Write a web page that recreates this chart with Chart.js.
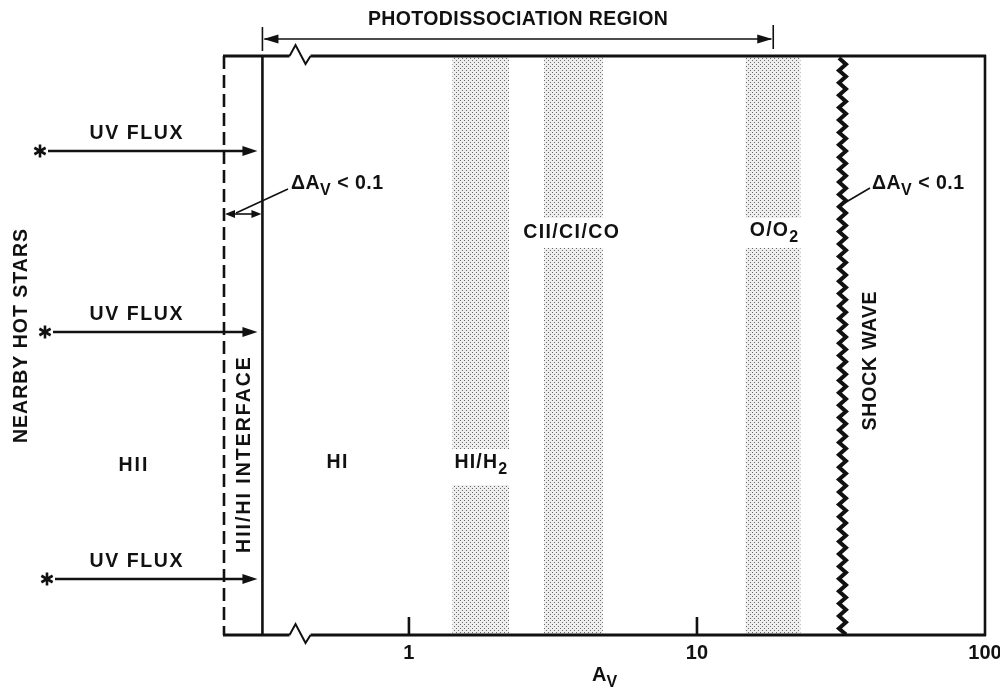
<!DOCTYPE html>
<html>
<head>
<meta charset="utf-8">
<script src="https://cdn.jsdelivr.net/npm/chart.js@4.4.1/dist/chart.umd.min.js"></script>
<style>
  html, body { margin: 0; padding: 0; background: #fff; }
  #wrap { width: 1000px; height: 688px; }
</style>
</head>
<body>
<div id="wrap"><canvas id="pdr"></canvas></div>
<script>
// Zones of the photodissociation region, in A_V (log axis)
const zoneNames = ["HI/H2", "CII/CI/CO", "O/O2"];
const zoneStart = [1.42, 2.95, 14.8];
const zoneEnd = [2.22, 4.7, 22.8];

const ionFrontAv = 0.228;   // dashed edge of the HII/HI interface
const interfaceAv = 0.31;   // solid edge of the interface
const breakAv = 0.385;      // axis break
const pdrEndAv = 18.4;      // end of the photodissociation arrow
const shockAv = 32;         // shock front
const avMax = 100;
const avTicks = [1, 10, 100];
const tickMarks = [1, 10];

const INK = "#111";
const FONT = "'Liberation Sans', Arial, Helvetica, sans-serif";

// label placement (canvas px)
const fluxRows = [151, 332, 579];
const fluxStars = [40, 45, 47];
const zoneGaps = [
  { zone: 0, y: 467, h: 36 },
  { zone: 1, y: 233, h: 30 },
  { zone: 2, y: 233, h: 30 }
];

function stipple() {
  const c = document.createElement("canvas");
  c.width = 4; c.height = 4;
  const g = c.getContext("2d");
  g.fillStyle = "#eeeeee";
  g.fillRect(0, 0, 4, 4);
  g.fillStyle = "#6a6a6a";
  g.fillRect(0, 0, 1, 1);
  g.fillRect(2, 2, 1, 1);
  return g.createPattern(c, "repeat");
}

function setFont(ctx, size, sp) {
  ctx.font = "bold " + size + "px " + FONT;
  ctx.letterSpacing = (sp || 0) + "px";
}

// text made of segments, some of them subscripts
function drawRich(ctx, segs, x, y, o) {
  const size = o.size || 19.5, sp = o.spacing || 0;
  const subSize = Math.round(size * 0.8);
  const widths = segs.map(s => {
    setFont(ctx, s.sub ? subSize : size, sp);
    return ctx.measureText(s.t).width;
  });
  const total = widths.reduce((a, b) => a + b, 0) - sp;
  let cx = o.align === "left" ? x : x - total / 2;
  ctx.textAlign = "left";
  ctx.textBaseline = "middle";
  ctx.fillStyle = INK;
  segs.forEach((s, i) => {
    setFont(ctx, s.sub ? subSize : size, sp);
    ctx.fillText(s.t, cx, y + (s.sub ? size * 0.36 : 0));
    cx += widths[i];
  });
  ctx.letterSpacing = "0px";
}

function drawRotated(ctx, segs, x, y, o) {
  ctx.save();
  ctx.translate(x, y);
  ctx.rotate(-Math.PI / 2);
  drawRich(ctx, segs, 0, 0, o);
  ctx.restore();
}

function line(ctx, x1, y1, x2, y2, w) {
  ctx.lineWidth = w;
  ctx.beginPath();
  ctx.moveTo(x1, y1);
  ctx.lineTo(x2, y2);
  ctx.stroke();
}

function head(ctx, tipX, y, dir, len, half) {
  ctx.beginPath();
  ctx.moveTo(tipX, y);
  ctx.lineTo(tipX - dir * len, y - half);
  ctx.lineTo(tipX - dir * len, y + half);
  ctx.closePath();
  ctx.fill();
}

function star(ctx, cx, cy, r) {
  for (let k = 0; k < 3; k++) {
    const ang = Math.PI / 2 + k * Math.PI / 3;
    line(ctx, cx - r * Math.cos(ang), cy - r * Math.sin(ang), cx + r * Math.cos(ang), cy + r * Math.sin(ang), 2.6);
  }
}

function edgeWithBreak(ctx, x0, x1, b, y) {
  ctx.lineWidth = 3;
  ctx.beginPath();
  ctx.moveTo(x0 - 1, y);
  ctx.lineTo(b, y);
  ctx.stroke();
  ctx.lineWidth = 2;
  ctx.beginPath();
  ctx.moveTo(b, y);
  ctx.lineTo(b + 6, y - 11);
  ctx.lineTo(b + 16, y + 8);
  ctx.lineTo(b + 21, y);
  ctx.stroke();
  ctx.lineWidth = 3;
  ctx.beginPath();
  ctx.moveTo(b + 21, y);
  ctx.lineTo(x1 + 1, y);
  ctx.stroke();
}

const diagram = {
  id: "diagram",
  afterDatasetsDraw(chart) {
    const { ctx, chartArea: a, scales: { x } } = chart;
    const px = v => x.getPixelForValue(v);
    const xL = px(ionFrontAv), xI = px(interfaceAv), xS = px(shockAv), xR = px(avMax);
    ctx.save();
    ctx.strokeStyle = INK;
    ctx.fillStyle = INK;
    ctx.lineCap = "butt";

    // white gaps in the shaded zones behind their names
    ctx.fillStyle = "#fff";
    zoneGaps.forEach(g => {
      const x0 = px(zoneStart[g.zone]), x1 = px(zoneEnd[g.zone]);
      ctx.fillRect(x0 - 1, g.y - g.h / 2, x1 - x0 + 2, g.h);
    });
    ctx.fillStyle = INK;

    // frame
    edgeWithBreak(ctx, xL, xR, px(breakAv), a.top);
    edgeWithBreak(ctx, xL, xR, px(breakAv), a.bottom);
    line(ctx, xR, a.top - 1, xR, a.bottom + 1, 2.6);
    line(ctx, xI, a.top, xI, a.bottom, 2.6);
    ctx.setLineDash([13, 6]);
    line(ctx, xL, a.top, xL, a.bottom, 2.6);
    ctx.setLineDash([]);

    // inward tick marks
    tickMarks.forEach(v => line(ctx, px(v), a.bottom, px(v), a.bottom - 18, 2.6));

    // shock front
    ctx.lineWidth = 4;
    ctx.lineJoin = "miter";
    ctx.beginPath();
    let k = 0;
    for (let y = a.top + 2; y <= a.bottom; y += 6.2, k++) {
      const xx = xS + (k % 2 ? 3.5 : -3.5);
      if (k === 0) ctx.moveTo(xx, y); else ctx.lineTo(xx, y);
    }
    ctx.stroke();

    // photodissociation region arrow
    const xP = px(pdrEndAv), yP = 39;
    line(ctx, xI + 2, yP, xP - 2, yP, 1.6);
    line(ctx, xI, 27, xI, 51, 1.6);
    line(ctx, xP, 25, xP, 49, 1.6);
    head(ctx, xI + 1, yP, -1, 15, 4.5);
    head(ctx, xP - 1, yP, 1, 15, 4.5);
    drawRich(ctx, [{ t: "PHOTODISSOCIATION REGION" }], (xI + xP) / 2, 20, { spacing: 0.4 });

    // UV flux from the nearby stars
    fluxRows.forEach((y, i) => {
      star(ctx, fluxStars[i], y, 6.5);
      line(ctx, fluxStars[i] + 8, y, xI - 16, y, 2.4);
      head(ctx, xI - 5, y, 1, 15, 5);
      drawRich(ctx, [{ t: "UV FLUX" }], 136, y - 17, { spacing: 1.6 });
    });

    // interface thickness
    const yD = 214;
    line(ctx, xL + 4, yD, xI - 4, yD, 1.6);
    head(ctx, xL + 1, yD, -1, 10, 4);
    head(ctx, xI - 1, yD, 1, 10, 4);
    line(ctx, xL + 12, yD - 1, 288, 189, 1.6);
    drawRich(ctx, [{ t: "\u0394A" }, { t: "V", sub: true }, { t: " < 0.1" }], 291, 184, { align: "left", spacing: 0.5 });

    // shock thickness
    line(ctx, xS + 2, 203, 870, 188, 1.6);
    drawRich(ctx, [{ t: "\u0394A" }, { t: "V", sub: true }, { t: " < 0.1" }], 872, 184, { align: "left", spacing: 0.5 });

    // zone names
    drawRich(ctx, [{ t: "HII" }], 133, 466, { spacing: 2 });
    drawRich(ctx, [{ t: "HI" }], 337, 463, { spacing: 1.5 });
    drawRich(ctx, [{ t: "HI/H" }, { t: "2", sub: true }], (px(zoneStart[0]) + px(zoneEnd[0])) / 2, 463, { spacing: 1.2 });
    drawRich(ctx, [{ t: "CII/CI/CO" }], 571, 233, { spacing: 1.4 });
    drawRich(ctx, [{ t: "O/O" }, { t: "2", sub: true }], 774, 231, { spacing: 1.2 });

    // vertical captions
    drawRotated(ctx, [{ t: "NEARBY HOT STARS" }], 22, 336, { spacing: 1 });
    drawRotated(ctx, [{ t: "HII/HI INTERFACE" }], 245, 455, { spacing: 2 });
    drawRotated(ctx, [{ t: "SHOCK WAVE" }], 871, 361, { spacing: 0.8 });

    // axis title
    drawRich(ctx, [{ t: "A" }, { t: "V", sub: true }], (a.left + a.right) / 2, 675, { size: 20 });

    ctx.restore();
  }
};

const pattern = stipple();

new Chart(document.getElementById("pdr"), {
  type: "bar",
  data: {
    labels: ["zones"],
    datasets: zoneNames.map((name, i) => ({
      label: name,
      data: [[zoneStart[i], zoneEnd[i]]],
      backgroundColor: pattern,
      borderWidth: 0,
      barPercentage: 1,
      categoryPercentage: 1,
      grouped: false
    }))
  },
  options: {
    indexAxis: "y",
    responsive: true,
    maintainAspectRatio: false,
    animation: false,
    layout: { padding: { left: 224, right: 15, top: 56, bottom: 17 } },
    plugins: { legend: { display: false }, tooltip: { enabled: false } },
    scales: {
      x: {
        type: "logarithmic",
        min: ionFrontAv,
        max: avMax,
        bounds: "data",
        grid: { display: false, drawTicks: false },
        border: { display: false },
        afterBuildTicks: s => { s.ticks = avTicks.map(v => ({ value: v })); },
        afterFit: s => { s.paddingLeft = 0; s.paddingRight = 0; },
        ticks: {
          color: INK,
          autoSkip: false,
          maxRotation: 0,
          padding: 6,
          font: { family: FONT, size: 20, weight: "bold" },
          callback: v => String(v)
        }
      },
      y: { display: false }
    }
  },
  plugins: [diagram]
});
</script>
</body>
</html>
